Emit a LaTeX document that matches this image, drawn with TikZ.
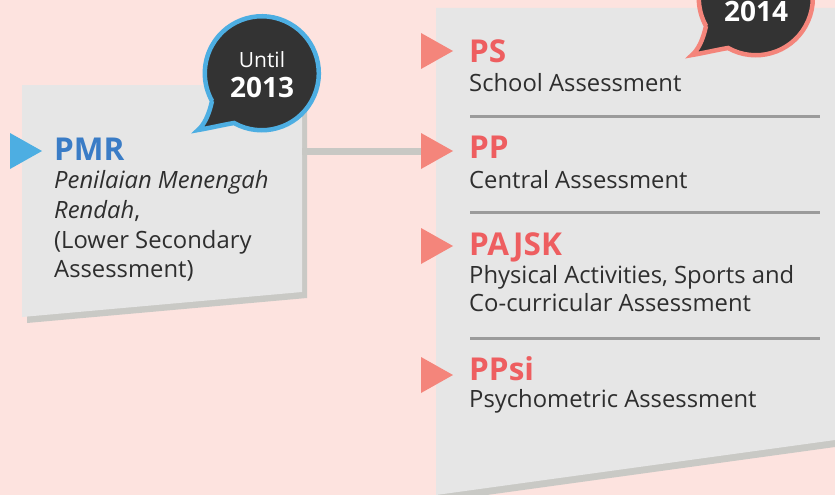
\documentclass[tikz,border=0pt]{standalone}
\usepackage{fontspec}
\setmainfont{Open Sans}
\definecolor{bgpink}{HTML}{FDE3DF}
\definecolor{panel}{HTML}{E6E6E6}
\definecolor{panelshadow}{HTML}{C9C9C5}
\definecolor{linkbar}{HTML}{C8C8C4}
\definecolor{rule}{HTML}{9B9B9B}
\definecolor{bubblefill}{HTML}{333333}
\definecolor{skyblue}{HTML}{4DAEE2}
\definecolor{deepblue}{HTML}{3A7CC6}
\definecolor{salmon}{HTML}{F4857B}
\definecolor{coral}{HTML}{EE5E60}
\definecolor{bodytext}{HTML}{2E2E2E}
\begin{document}
\begin{tikzpicture}[x=1pt,y=-1pt,
  txt/.style={inner sep=0pt, anchor=base west},
  title/.style={txt, font=\fontsize{31.5}{34}\selectfont\bfseries},
  body/.style={txt, text=bodytext, font=\fontsize{23.8}{28}\selectfont},
  divider/.style={draw=rule, line width=3pt},
  pics/bubble/.style={code={
    \filldraw[fill=bubblefill, draw=#1, line width=4.5pt, line join=miter]
      (-50,28) .. controls (-53,42) and (-58,52) .. (-64,57)
      .. controls (-52,55) and (-40,52) .. (-28,50)
      arc[start angle=119.2, end angle=-209.25, radius=57] -- cycle;
  }},
  pointer/.style={fill=#1}
]
\useasboundingbox (0,0) rectangle (835,495);
\clip (0,0) rectangle (835,495);
\fill[bgpink] (0,0) rectangle (835,495);

% left panel (PMR) with its drop shadow
\fill[panelshadow] (27,91) -- (307,91) -- (307,298) -- (27,323) -- cycle;
\fill[panel] (22,85) -- (302,85) -- (302,292) -- (22,317) -- cycle;

% link from the PMR panel to the new system
\coordinate (pmrR) at (302,151);
\coordinate (ppL) at (426,151);
\draw[linkbar, line width=7pt] (pmrR) -- (ppL);

% right panel with its drop shadow
\fill[panelshadow] (436,14) -- (835,14) -- (835,447) -- (436,502) -- cycle;
\fill[panel] (436,8) -- (835,8) -- (835,440) -- (436,495) -- cycle;

% dividers between the four components
\draw[divider] (470,116) -- (820,116);
\draw[divider] (470,212) -- (820,212);
\draw[divider] (470,338) -- (820,338);

% pointer triangles
\fill[pointer=skyblue] (10,133) -- (42,151) -- (10,169) -- cycle;
\fill[pointer=salmon] (421,33) -- (453,51) -- (421,69) -- cycle;
\fill[pointer=salmon] (421,133) -- (453,151) -- (421,169) -- cycle;
\fill[pointer=salmon] (421,228) -- (453,246) -- (421,264) -- cycle;
\fill[pointer=salmon] (421,357) -- (453,375) -- (421,393) -- cycle;

% PMR text
\node[title, text=deepblue] (pmr) at (54,160) {PMR};
\node[body] (pmr1) at (54,188) {\itshape Penilaian Menengah};
\node[body] (pmr2) at (54,218) {\textit{Rendah},};
\node[body] (pmr3) at (54,248) {(Lower Secondary};
\node[body] (pmr4) at (54,277) {Assessment)};

% new assessment components
\node[title, text=coral] (ps) at (469,63) {PS};
\node[body] (psd) at (469,92) {School Assessment};
\node[title, text=coral] (pp) at (469,158) {PP};
\node[body] (ppd) at (469,188) {Central Assessment};
\node[title, text=coral] (pajsk) at (469,255) {PAJSK};
\node[body] (pajsk1) at (469,283) {Physical Activities, Sports and};
\node[body] (pajsk2) at (469,311) {Co-curricular Assessment};
\node[title, text=coral] (ppsi) at (469,380) {PPsi};
\node[body] (ppsid) at (469,407) {Psychometric Assessment};

% year bubbles
\pic at (262,73) {bubble=skyblue};
\node[inner sep=0pt, anchor=base, text=white, font=\fontsize{21}{24}\selectfont] (until) at (262,67) {Until};
\node[inner sep=0pt, anchor=base, text=white, font=\fontsize{28}{32}\selectfont\bfseries] (y2013) at (262,97) {2013};
\pic at (756,-2) {bubble=salmon};
\node[inner sep=0pt, anchor=base, text=white, font=\fontsize{28}{32}\selectfont\bfseries] (y2014) at (756,22) {2014};
\end{tikzpicture}
\end{document}
